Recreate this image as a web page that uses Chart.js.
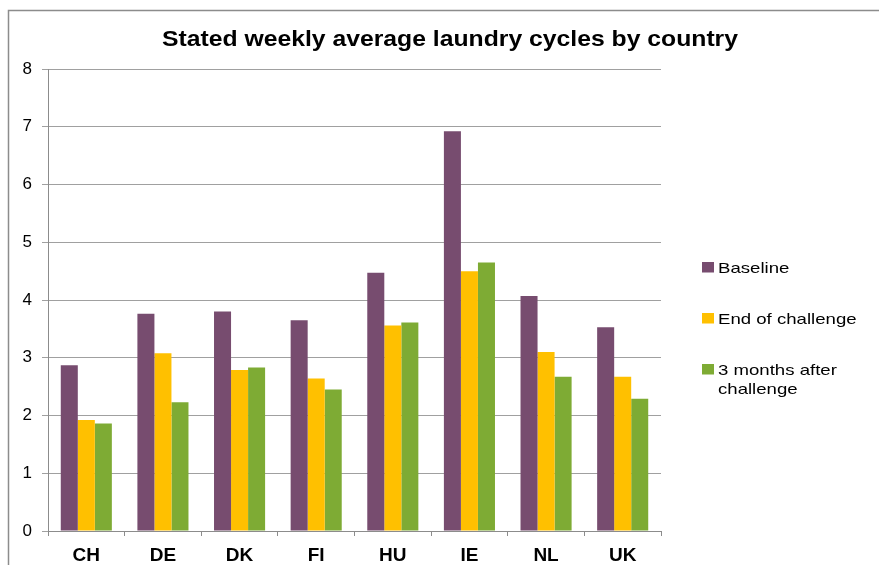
<!DOCTYPE html>
<html>
<head>
<meta charset="utf-8">
<script src="https://cdn.jsdelivr.net/npm/chart.js@4/dist/chart.umd.min.js"></script>
<style>
html,body{margin:0;padding:0;background:#fff;overflow:hidden;}
#wrap{position:absolute;left:0;top:0;width:879px;height:565px;}
</style>
</head>
<body>
<div id="wrap"><canvas id="c" width="879" height="565"></canvas></div>
<script>
const categories = ["CH","DE","DK","FI","HU","IE","NL","UK"];
const baseline = [2.87,3.76,3.80,3.65,4.47,6.92,4.07,3.53];
const endOfChallenge = [1.92,3.08,2.79,2.64,3.56,4.50,3.10,2.67];
const threeMonthsAfter = [1.86,2.23,2.83,2.45,3.61,4.65,2.67,2.29];
const seriesNames = ["Baseline","End of challenge","3 months after challenge"];
const yTicks = [0,1,2,3,4,5,6,7,8];
const titleText = "Stated weekly average laundry cycles by country";

const colors = ["#774C6F","#FFC000","#7EAB34"];
const FONT = '"Liberation Sans", Arial, sans-serif';
const STRETCH = 1.24;

const framePlugin = {
  id: 'frame',
  beforeDraw(chart){
    const ctx = chart.ctx;
    ctx.save();
    ctx.fillStyle = '#fff';
    ctx.fillRect(0,0,chart.width,chart.height);
    ctx.strokeStyle = '#8C8C8C';
    ctx.lineWidth = 1.5;
    ctx.beginPath();
    ctx.moveTo(8.5, chart.height + 5);
    ctx.lineTo(8.5, 10.5);
    ctx.lineTo(chart.width + 5, 10.5);
    ctx.stroke();
    ctx.restore();
  },
  afterDraw(chart){
    const ctx = chart.ctx;
    ctx.save();
    // title, stretched to reference width
    ctx.fillStyle = '#000';
    ctx.font = 'bold 22px ' + FONT;
    ctx.textAlign = 'left';
    ctx.textBaseline = 'alphabetic';
    const tw = ctx.measureText(titleText).width;
    const targetW = 576;
    ctx.save();
    ctx.translate(450 - targetW / 2, 46);
    ctx.scale(targetW / tw, 1);
    ctx.fillText(titleText, 0, 0);
    ctx.restore();
    // legend
    ctx.font = '15px ' + FONT;
    const ys = [272.5, 323.5, 374.5];
    chart.data.datasets.forEach((ds, i) => {
      const y = ys[i];
      ctx.fillStyle = ds.backgroundColor;
      ctx.fillRect(702, y - 10.5, 12, 10.5);
      ctx.fillStyle = '#000';
      const words = ds.label.split(' ');
      const lines = [];
      let cur = '';
      words.forEach(w => {
        const t = cur ? cur + ' ' + w : w;
        if (ctx.measureText(t).width * STRETCH > 152 && cur) { lines.push(cur); cur = w; }
        else cur = t;
      });
      lines.push(cur);
      lines.forEach((ln, k) => {
        ctx.save();
        ctx.translate(718, y + k * 19.5);
        ctx.scale(STRETCH, 1);
        ctx.fillText(ln, 0, 0);
        ctx.restore();
      });
    });
    ctx.restore();
  }
};

new Chart(document.getElementById('c'), {
  type: 'bar',
  data: {
    labels: categories,
    datasets: [
      {label: seriesNames[0], data: baseline, backgroundColor: colors[0]},
      {label: seriesNames[1], data: endOfChallenge, backgroundColor: colors[1]},
      {label: seriesNames[2], data: threeMonthsAfter, backgroundColor: colors[2]}
    ]
  },
  options: {
    responsive: false,
    animation: false,
    devicePixelRatio: 1,
    layout: {padding: {top: 69, right: 218, left: 0, bottom: 0}},
    datasets: {bar: {categoryPercentage: 0.6667, barPercentage: 1.0, borderWidth: 0}},
    plugins: {legend: {display: false}, title: {display: false}, tooltip: {enabled: false}},
    scales: {
      x: {
        afterFit(s){ s.height = 34; },
        grid: {display: true, drawOnChartArea: false, drawTicks: true, tickLength: 5, color: '#8C8C8C', offset: true},
        border: {display: true, color: '#8C8C8C', width: 1},
        ticks: {color: '#000', font: {family: FONT, size: 19, weight: 'bold'}, padding: 8}
      },
      y: {
        min: 0, max: 8,
        afterFit(s){ s.width = 48; },
        afterBuildTicks(s){ s.ticks = yTicks.map(v => ({value: v})); },
        grid: {color: '#A0A0A0', lineWidth: 1, tickLength: 6, drawTicks: true},
        border: {display: true, color: '#8C8C8C', width: 1},
        ticks: {color: '#000', font: {family: FONT, size: 17}, padding: 10}
      }
    }
  },
  plugins: [framePlugin]
});
</script>
</body>
</html>
